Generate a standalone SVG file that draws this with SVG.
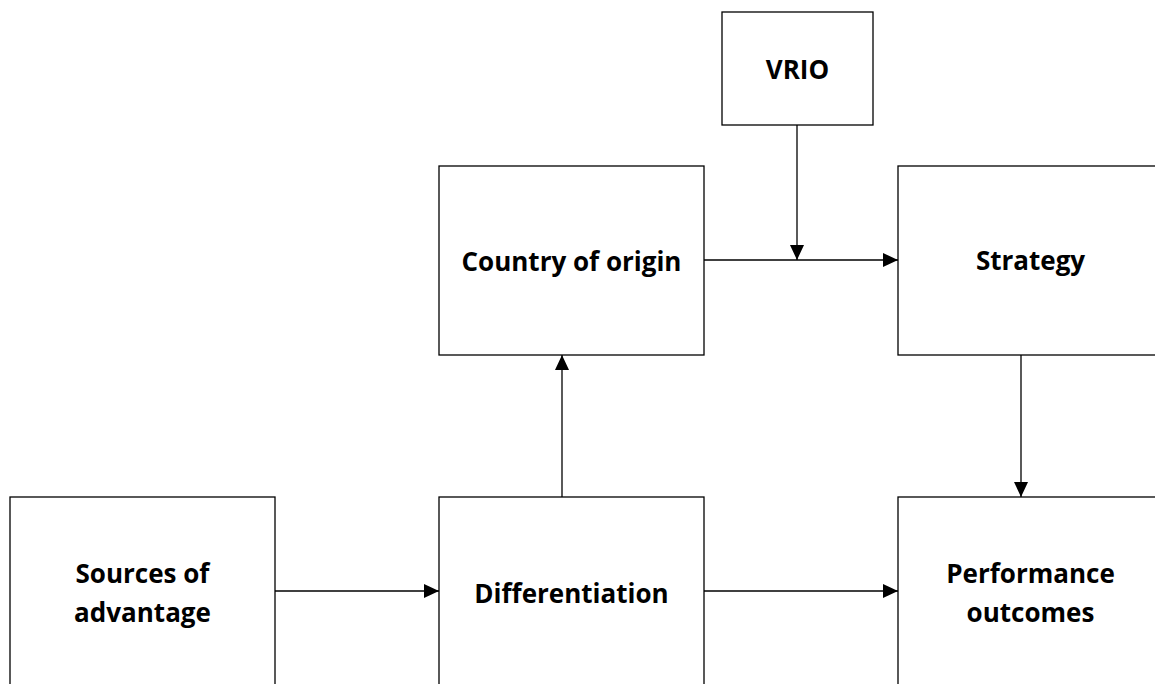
<svg xmlns="http://www.w3.org/2000/svg" width="1155" height="684" viewBox="0 0 1155 684">
<style>
.box{fill:#fff;stroke:#000;stroke-width:1.3}
.lbl{font-family:"Open Sans","Noto Sans","Liberation Sans",sans-serif;font-weight:bold;font-size:26px;fill:#000;text-anchor:middle}
.con{stroke:#000;stroke-width:1.3;fill:none}
</style>
<defs>
<marker id="ah" viewBox="0 0 15 14" refX="15" refY="7" markerWidth="15" markerHeight="14" markerUnits="userSpaceOnUse" orient="auto">
<path d="M0,0 L15,7 L0,14 Z" fill="#000"/>
</marker>
</defs>
<rect width="1155" height="684" fill="#fff"/>
<g id="vrio"><rect class="box" x="722" y="12" width="151" height="113"/><text class="lbl" x="797.5" y="79">VRIO</text></g>
<g id="country"><rect class="box" x="439" y="166" width="265" height="189"/><text class="lbl" x="571.5" y="271">Country of origin</text></g>
<g id="strategy"><rect class="box" x="898" y="166" width="265" height="189"/><text class="lbl" x="1030.5" y="270">Strategy</text></g>
<g id="sources"><rect class="box" x="10" y="497" width="265" height="200"/><text class="lbl" x="142.5" y="583">Sources of</text><text class="lbl" x="142.5" y="622">advantage</text></g>
<g id="differentiation"><rect class="box" x="439" y="497" width="265" height="200"/><text class="lbl" x="571.5" y="603">Differentiation</text></g>
<g id="performance"><rect class="box" x="898" y="497" width="265" height="200"/><text class="lbl" x="1030.5" y="583">Performance</text><text class="lbl" x="1030.5" y="622">outcomes</text></g>
<g id="connectors">
<line class="con" x1="704" y1="260" x2="898" y2="260" marker-end="url(#ah)"/>
<line class="con" x1="797" y1="125" x2="797" y2="260" marker-end="url(#ah)"/>
<line class="con" x1="1021" y1="355" x2="1021" y2="497" marker-end="url(#ah)"/>
<line class="con" x1="275" y1="591" x2="439" y2="591" marker-end="url(#ah)"/>
<line class="con" x1="704" y1="591" x2="898" y2="591" marker-end="url(#ah)"/>
<line class="con" x1="562" y1="497" x2="562" y2="355" marker-end="url(#ah)"/>
</g>
</svg>
